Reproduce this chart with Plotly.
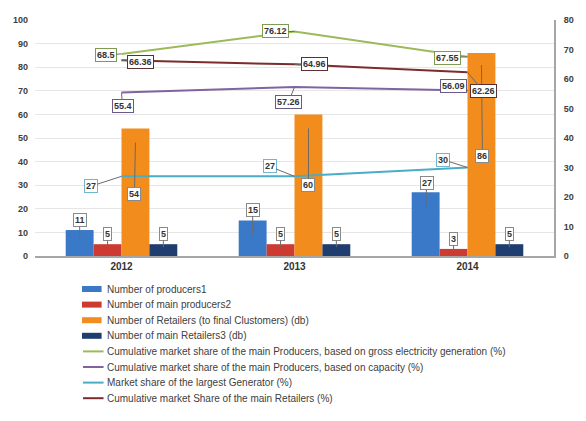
import plotly.graph_objects as go

years = ["2012", "2013", "2014"]

producers = [11, 15, 27]
main_producers = [5, 5, 3]
retailers = [54, 60, 86]
main_retailers = [5, 5, 5]

share_gross = [68.5, 76.12, 67.55]
share_capacity = [55.4, 57.26, 56.09]
share_largest = [27, 27, 30]
share_retailers = [66.36, 64.96, 62.26]

bar_names = ["Number of producers1", "Number of main producers2",
             "Number of Retailers (to final Clustomers) (db)", "Number of main Retailers3 (db)"]
line_names = ["Cumulative market share of the main Producers, based on gross electricity generation (%)",
              "Cumulative market share of the main Producers, based on capacity (%)",
              "Market share of the largest Generator (%)",
              "Cumulative market Share of the main Retailers (%)"]

bar_colors = ["#3a78c8", "#cc3a32", "#f28c1c", "#1f3d6e"]
line_colors = ["#9bbb59", "#8064a2", "#4bacc6", "#7b2c2c"]

bar_series = [producers, main_producers, retailers, main_retailers]
line_series = [share_gross, share_capacity, share_largest, share_retailers]

W, H = 586, 421
ML, MR, MT, MB = 35, 21, 20, 165
PW, PH = W - ML - MR, H - MT - MB
BARGAP = 0.355

fig = go.Figure()
for name, vals, col in zip(bar_names, bar_series, bar_colors):
    fig.add_trace(go.Bar(x=years, y=vals, name=name, marker=dict(color=col, line=dict(width=0)),
                         yaxis="y", showlegend=False))
for name, vals, col in zip(line_names, line_series, line_colors):
    fig.add_trace(go.Scatter(x=years, y=vals, name=name, mode="lines", line=dict(color=col, width=2),
                             yaxis="y2", showlegend=False))

annotations = []
bw = (1 - BARGAP) / 4
offsets = [(-1.5 + k) * bw for k in range(4)]
LBL_FONT = dict(family="Liberation Sans", size=9, color="#333333")


def callout(x, y, yref, text, ax, ay, yshift, border):
    annotations.append(dict(
        x=x, y=y, xref="x", yref=yref, text="<b>%s</b>" % text, showarrow=True,
        arrowhead=0, arrowwidth=1, arrowcolor="#6b6b6b", ax=ax, ay=ay, axref="pixel", ayref="pixel",
        yshift=yshift, bgcolor="white", bordercolor=border, borderwidth=1, borderpad=1,
        font=LBL_FONT))


# bar callouts: per series, per year (ax, ay, yshift)
bar_callouts = [
    [(0, -20, -10), (0, -25, -14), (1, -24, -15)],
    [(0, -13, -3), (0, -13, -3), (0, -12, -2)],
    [(-1, 51, -14), (0, 57, -14), (1, 91, -12)],
    [(0, -13, -3), (0, -13, -3), (0, -13, -3)],
]
for s, vals in enumerate(bar_series):
    for i, v in enumerate(vals):
        ax, ay, ys = bar_callouts[s][i]
        callout(i + offsets[s], v, "y", str(v), ax, ay, ys, "#8a8a8a")

line_callouts = [
    [(-16, 1), (-19, 0), (-20, 1)],
    [(1, 13), (-6, 15), (-14, -5)],
    [(-31, 10), (-25, -10), (-25, -8)],
    [(19, 2), (20, 0), (16, 19)],
]
line_borders = ["#7f9a55", "#6a5a8a", "#6fb6d0", "#5a3030"]
for s, vals in enumerate(line_series):
    for i, v in enumerate(vals):
        ax, ay = line_callouts[s][i]
        callout(i, v, "y2", ("%g" % v), ax, ay, 0, line_borders[s])

# custom legend (compact row spacing like the original)
shapes = []
def px2paper(px, py):
    return (px - ML) / PW, (MT + PH - py) / PH

legend_names = bar_names + line_names
legend_colors = bar_colors + line_colors
for i, (nm, col) in enumerate(zip(legend_names, legend_colors)):
    py = 289 + i * 15.6
    if i < 4:
        x0, y0 = px2paper(83, py + 3)
        x1, y1 = px2paper(103, py - 3)
        shapes.append(dict(type="rect", xref="paper", yref="paper", x0=x0, x1=x1, y0=y0, y1=y1,
                           fillcolor=col, line=dict(width=0)))
    else:
        x0, y0 = px2paper(84, py)
        x1, _ = px2paper(105, py)
        shapes.append(dict(type="line", xref="paper", yref="paper", x0=x0, x1=x1, y0=y0, y1=y0,
                           line=dict(color=col, width=2)))
    tx, ty = px2paper(106, py)
    annotations.append(dict(x=tx, y=ty, xref="paper", yref="paper", text=nm, showarrow=False,
                            xanchor="left", yanchor="middle",
                            font=dict(family="Liberation Sans", size=10, color="#404040")))

fig.update_layout(
    width=W, height=H, margin=dict(l=ML, r=MR, t=MT, b=MB),
    paper_bgcolor="white", plot_bgcolor="white",
    barmode="group", bargap=BARGAP, bargroupgap=0,
    showlegend=False,
    xaxis=dict(type="category", showline=True, linecolor="#a6a6a6", linewidth=2, showgrid=False,
               tickfont=dict(family="Liberation Sans", size=10, color="#333333", weight="bold"),
               ticks=""),
    yaxis=dict(range=[0, 100], dtick=10, showgrid=True, gridcolor="#e6e6e6", gridwidth=1,
               zeroline=False, showline=False, ticks="", ticklabelstandoff=6,
               tickfont=dict(family="Liberation Sans", size=9, color="#404040", weight="bold")),
    yaxis2=dict(range=[0, 80], dtick=10, overlaying="y", side="right", showgrid=False,
                zeroline=False, showline=True, linecolor="#a6a6a6", linewidth=2, ticks="",
                ticklabelstandoff=6,
                tickfont=dict(family="Liberation Sans", size=9, color="#404040", weight="bold")),
    annotations=annotations, shapes=shapes,
)

fig.write_html("out.html")
